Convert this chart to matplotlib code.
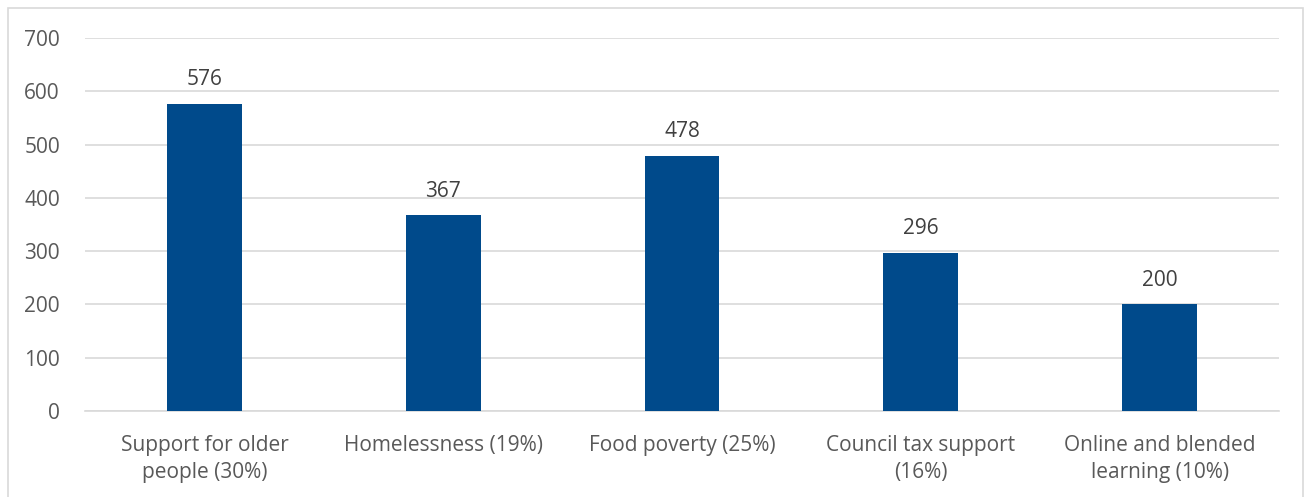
import matplotlib
matplotlib.use("Agg")
import matplotlib.pyplot as plt
from matplotlib.patches import Rectangle

categories = ["Support for older\npeople (30%)", "Homelessness (19%)", "Food poverty (25%)",
              "Council tax support\n(16%)", "Online and blended\nlearning (10%)"]
values = [576, 367, 478, 296, 200]
yticks = [0, 100, 200, 300, 400, 500, 600, 700]

plt.rcParams['font.family'] = ['Open Sans', 'DejaVu Sans']
txt = '#595959'
fs = 15
fig = plt.figure(figsize=(13.09, 4.97), dpi=100)
fig.patches.append(Rectangle((8/1309, -0.01), 1295/1309, 1 - 8/497 + 0.01, transform=fig.transFigure,
                             fill=False, edgecolor='#D9D9D9', linewidth=1.2))
ax = fig.add_axes([85/1309, 1 - 411/497, 1194/1309, 373/497])
x = list(range(len(values)))
ax.bar(x, values, width=0.314, color='#004A8B', zorder=3)
for xi, v in zip(x, values):
    ax.text(xi, v + 26, str(v), ha='center', va='bottom', fontsize=fs, color='#404040')
ax.set_xlim(-0.5, len(values) - 0.5)
ax.set_ylim(0, 700)
ax.set_yticks(yticks)
ax.set_yticklabels([str(t) for t in yticks], fontsize=fs, color=txt)
ax.set_xticks(x)
ax.set_xticklabels(categories, fontsize=fs, color=txt, linespacing=1.38)
ax.tick_params(axis='both', length=0)
ax.tick_params(axis='x', pad=17)
ax.tick_params(axis='y', pad=18)
ax.grid(axis='y', color='#D9D9D9', linewidth=1.2, zorder=0)
for s in ['top', 'right', 'left']:
    ax.spines[s].set_visible(False)
ax.spines['bottom'].set_color('#D9D9D9')
ax.spines['bottom'].set_linewidth(1.2)
fig.savefig("out.png", dpi=100)
